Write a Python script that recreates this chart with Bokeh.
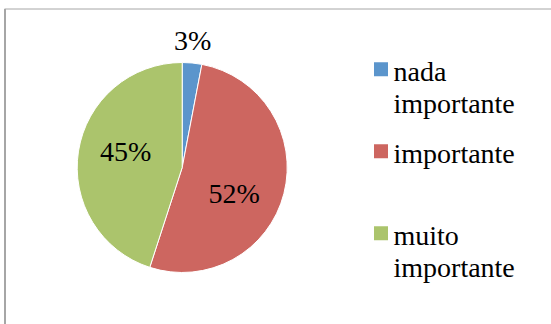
import math
from bokeh.plotting import figure
from bokeh.models import Range1d, ColumnDataSource
from bokeh.core.properties import value
from bokeh.embed import file_html
from bokeh.resources import INLINE

# Survey answers and their shares (percent)
categories = ["nada importante", "importante", "muito importante"]
shares = [3, 52, 45]
colors = ["#5B95CC", "#CD6660", "#ABC46C"]

W, H = 551, 324
FONT = value("Liberation Serif")

# pie geometry (pixel layout, y measured from the top of the page)
CX, CY, R = 181.7, 167.0, 105.0
# percentage label anchors relative to the pie centre (dx, baseline dy)
label_offsets = [(10.5, -126.7), (52.0, 25.7), (-56.5, -16.0)]

# legend layout
LEG_SWATCH_X = 380.5
LEG_SWATCH_Y = 68.7
LEG_TEXT_X = 393.0
LEG_FIRST_BASELINE = 71.0
LEG_ITEM_STEP = 82.0
LEG_LINE_STEP = 32.0
SWATCH = 14.0


def sy(y):
    """Convert a top-down pixel coordinate to the upward data axis."""
    return H - y


p = figure(width=W, height=H, x_range=Range1d(0, W), y_range=Range1d(0, H),
           x_axis_type=None, y_axis_type=None, toolbar_location=None,
           output_backend="svg", min_border=0)
p.grid.visible = False
p.outline_line_color = None
p.background_fill_color = "white"
p.border_fill_color = "white"

# chart-area frame (top and left edges visible in the page)
p.segment(x0=[4.5], y0=[sy(8.5)], x1=[4.5], y1=[sy(H + 5)],
          line_color="#A6A6A6", line_width=2)
p.segment(x0=[4.0], y0=[sy(8.5)], x1=[W + 5], y1=[sy(8.5)],
          line_color="#A6A6A6", line_width=1)

# wedges, clockwise from twelve o'clock
total = float(sum(shares))
starts, ends = [], []
a = math.pi / 2
for s in shares:
    sweep = 2 * math.pi * s / total
    starts.append(a)
    ends.append(a - sweep)
    a -= sweep

src = ColumnDataSource(dict(start=starts, end=ends, color=colors,
                            label=categories))
p.wedge(x=CX, y=sy(CY), radius=R, start_angle="start", end_angle="end",
        direction="clock", fill_color="color", line_color="white",
        line_width=1, source=src)

# percentage labels
lx = [CX + dx for dx, _ in label_offsets]
ly = [sy(CY + dy) for _, dy in label_offsets]
p.text(x=lx, y=ly, text=[f"{s}%" for s in shares], text_font=FONT,
       text_font_size="28px", text_align="center",
       text_baseline="alphabetic", text_color="black")

# legend: colour swatch plus wrapped category name
sw_x, sw_y, tx, ty, tt = [], [], [], [], []
for i, name in enumerate(categories):
    sw_x.append(LEG_SWATCH_X)
    sw_y.append(sy(LEG_SWATCH_Y + i * LEG_ITEM_STEP))
    base = LEG_FIRST_BASELINE + i * LEG_ITEM_STEP
    for j, word in enumerate(name.split(" ")):
        tx.append(LEG_TEXT_X)
        ty.append(sy(base + j * LEG_LINE_STEP))
        tt.append(word)

p.rect(x=sw_x, y=sw_y, width=SWATCH, height=SWATCH, fill_color=colors,
       line_color=None)
p.text(x=tx, y=ty, text=tt, text_font=FONT, text_font_size="28px",
       text_align="left", text_baseline="alphabetic", text_color="black")

open("out.html", "w").write(file_html(p, INLINE))
